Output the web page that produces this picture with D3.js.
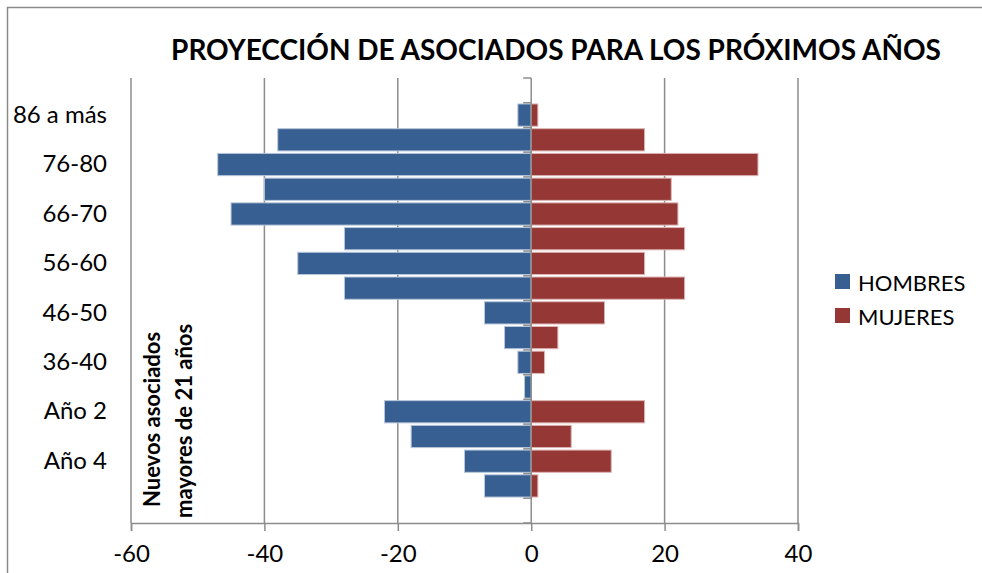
<!DOCTYPE html>
<meta charset="utf-8">
<head>
<style>
  body { margin: 0; background: #fff; }
  svg text { font-family: Lato, "Open Sans", sans-serif; fill: #000; }
</style>
</head>
<script src="https://d3js.org/d3.v7.min.js"></script>
<div id="chart"></div>
<script>
  // age groups / years, top to bottom
  var categories = ["86 a más", "81-85", "76-80", "71-75", "66-70", "61-65", "56-60", "51-55",
                    "46-50", "41-45", "36-40", "Año 1", "Año 2", "Año 3", "Año 4", "Año 5"];
  var hombres = [-2, -38, -47, -40, -45, -28, -35, -28, -7, -4, -2, -1, -22, -18, -10, -7];
  var mujeres = [1, 17, 34, 21, 22, 23, 17, 23, 11, 4, 2, 0, 17, 6, 12, 1];
  var seriesNames = ["HOMBRES", "MUJERES"];
  var seriesColors = ["#375f91", "#953735"];
  var xTicks = [-60, -40, -20, 0, 20, 40];

  var width = 982, height = 573;
  var margin = {top: 78, right: 184, bottom: 50, left: 131};

  var svg = d3.select("#chart").append("svg")
      .attr("width", width)
      .attr("height", height);

  // chart border
  svg.append("rect")
      .attr("x", 7.5).attr("y", 7.5)
      .attr("width", width + 20).attr("height", height + 20)
      .attr("fill", "none")
      .attr("stroke", "#8a8a8a")
      .attr("stroke-width", 1.5);

  var x = d3.scaleLinear()
      .domain([-60, 40])
      .range([margin.left, width - margin.right]);

  // one empty band above and below the data
  var y = d3.scaleBand()
      .domain(categories)
      .range([margin.top, height - margin.bottom])
      .paddingInner(0.1)
      .paddingOuter(1.05);

  var step = y.step();
  var bottom = height - margin.bottom;

  // vertical gridlines
  svg.append("g")
    .selectAll("line")
    .data(xTicks.filter(d => d !== 0))
    .join("line")
      .attr("x1", d => x(d)).attr("x2", d => x(d))
      .attr("y1", margin.top).attr("y2", bottom)
      .attr("stroke", "#8c8c8c")
      .attr("stroke-width", 1.5);

  var data = categories.map((c, i) => ({cat: c, h: hombres[i], m: mujeres[i]}));

  var bars = svg.append("g");
  bars.selectAll("rect.h")
    .data(data)
    .join("rect")
      .attr("class", "h")
      .attr("x", d => x(d.h))
      .attr("y", d => y(d.cat))
      .attr("width", d => x(0) - x(d.h))
      .attr("height", y.bandwidth())
      .attr("fill", seriesColors[0])
      .attr("stroke", "#b8c6da")
      .attr("stroke-width", 1);

  bars.selectAll("rect.m")
    .data(data.filter(d => d.m > 0))
    .join("rect")
      .attr("class", "m")
      .attr("x", x(0))
      .attr("y", d => y(d.cat))
      .attr("width", d => x(d.m) - x(0))
      .attr("height", y.bandwidth())
      .attr("fill", seriesColors[1])
      .attr("stroke", "#dcb6b5")
      .attr("stroke-width", 1);

  // zero axis with category ticks on the left
  var zero = svg.append("g").attr("stroke", "#8c8c8c").attr("stroke-width", 1.5);
  zero.append("line")
      .attr("x1", x(0)).attr("x2", x(0))
      .attr("y1", margin.top).attr("y2", bottom);
  zero.selectAll("line.t")
    .data(d3.range(categories.length + 3))
    .join("line")
      .attr("class", "t")
      .attr("x1", x(0) - 8).attr("x2", x(0))
      .attr("y1", i => margin.top + i * step)
      .attr("y2", i => margin.top + i * step);

  // bottom axis
  var xAxis = svg.append("g")
      .attr("transform", "translate(0," + bottom + ")")
      .call(d3.axisBottom(x).tickValues(xTicks).tickSize(8).tickPadding(14)
        .tickFormat(d => String(d)));
  xAxis.selectAll("path, line").attr("stroke", "#8c8c8c").attr("stroke-width", 1.5);
  xAxis.selectAll("text").style("font-size", "24px").attr("fill", "#000");

  // category labels, every other one
  var yAxis = svg.append("g")
      .attr("transform", "translate(107,0)")
      .call(d3.axisLeft(y).tickValues(categories.filter((d, i) => i % 2 === 0))
        .tickSize(0).tickPadding(0));
  yAxis.select(".domain").remove();
  yAxis.selectAll("text").style("font-size", "24px").attr("fill", "#000");

  // rotated note
  var note = svg.append("g")
      .style("font-size", "22px")
      .style("font-weight", "bold");
  note.append("text")
      .attr("transform", "translate(151,507) rotate(-90)")
      .attr("dominant-baseline", "central")
      .text("Nuevos asociados");
  note.append("text")
      .attr("transform", "translate(183,518) rotate(-90)")
      .attr("dominant-baseline", "central")
      .text("mayores de 21 años");

  // title
  svg.append("text")
      .attr("x", 556)
      .attr("y", 60)
      .attr("text-anchor", "middle")
      .style("font-size", "28px")
      .style("font-weight", "bold")
      .text("PROYECCIÓN DE ASOCIADOS PARA LOS PRÓXIMOS AÑOS");

  // legend
  var legend = svg.append("g")
    .selectAll("g")
    .data(seriesNames)
    .join("g")
      .attr("transform", (d, i) => "translate(835," + (274 + i * 34) + ")");
  legend.append("rect")
      .attr("width", 15).attr("height", 15)
      .attr("fill", (d, i) => seriesColors[i]);
  legend.append("text")
      .attr("x", 23).attr("y", 8)
      .attr("dominant-baseline", "central")
      .style("font-size", "22px")
      .text(d => d);
</script>
